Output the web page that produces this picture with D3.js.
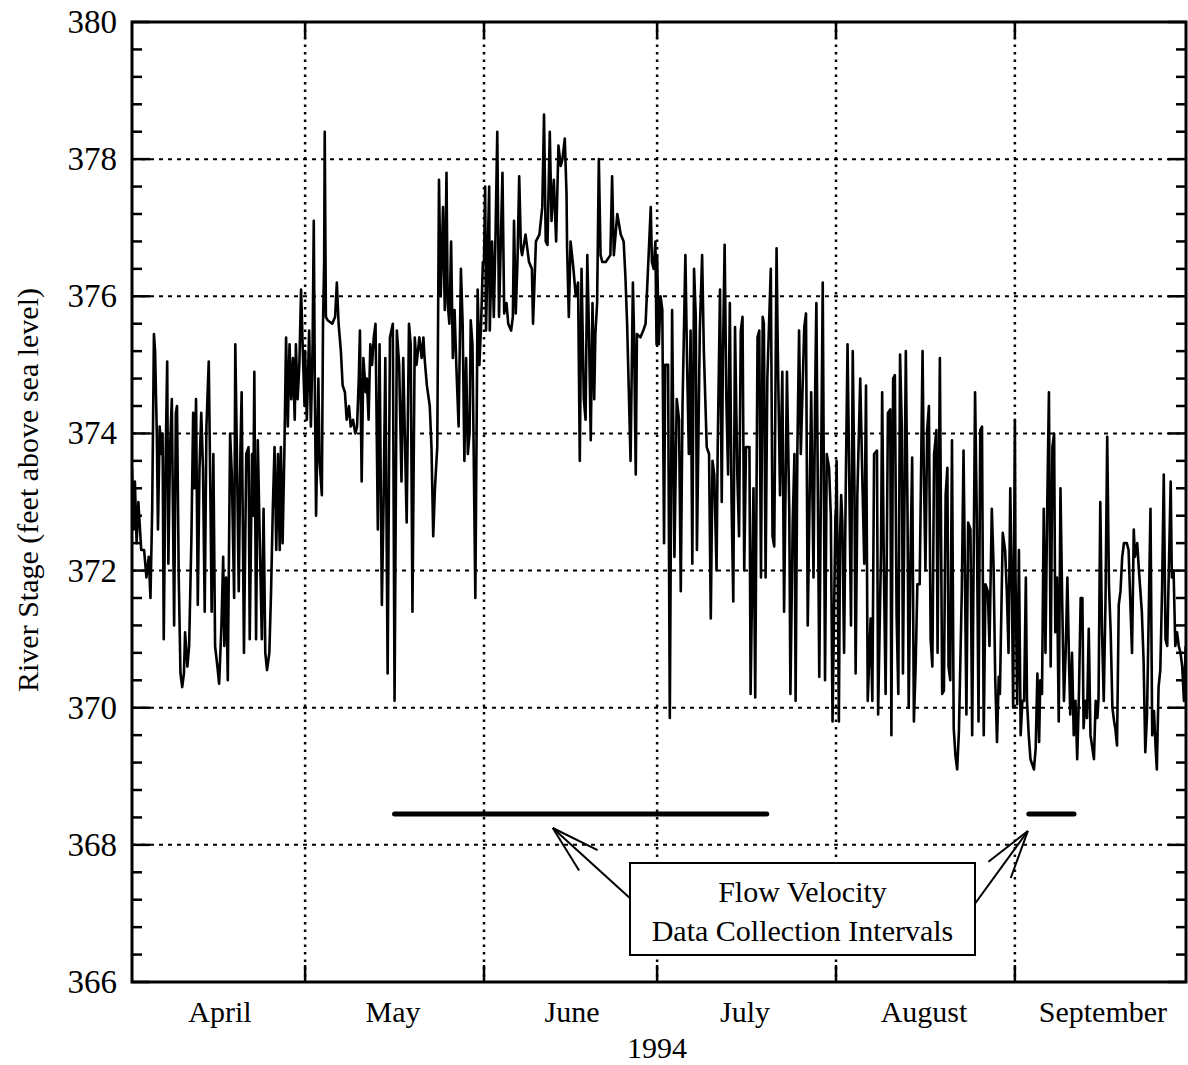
<!DOCTYPE html>
<html>
<head>
<meta charset="utf-8">
<script src="https://cdnjs.cloudflare.com/ajax/libs/d3/7.8.5/d3.min.js"></script>
<style>
body { margin: 0; background: #fff; }
text { font-family: "Liberation Serif", "Times New Roman", serif; fill: #000; }
</style>
</head>
<body>
<div id="river-stage"></div>
<script>
/**
 * River stage, April - September 1994
 * each month: [days since the 1st, stage in feet]
 *  */

var aprilStage = [[0, 373.5], [0.3, 372.6], [0.5, 373.3], [0.8, 372.4], [1.1, 373.0], [1.6, 372.3], [2.1, 372.3], [2.5, 371.9], [2.9, 372.2], [3.2, 371.6], [3.5, 372.9], [3.8, 375.45], [4.0, 375.2], [4.3, 374.0], [4.5, 372.6], [4.8, 374.1], [5.1, 373.7], [5.3, 374.0], [5.5, 371.0], [5.8, 373.5], [6.1, 375.05], [6.3, 372.1], [6.6, 373.8], [6.9, 374.5], [7.3, 371.2], [7.6, 374.3], [7.8, 374.4], [8.1, 371.9], [8.4, 370.5], [8.7, 370.3], [9.0, 370.5], [9.2, 371.1], [9.6, 370.6], [9.9, 370.9], [10.3, 372.5], [10.6, 374.3], [10.8, 373.2], [11.1, 374.5], [11.4, 371.5], [11.7, 373.5], [12.0, 374.3], [12.3, 373.5], [12.6, 371.4], [12.9, 374.1], [13.3, 375.05], [13.6, 373.0], [13.8, 371.4], [14.1, 373.7], [14.4, 370.9], [14.8, 370.6], [15.1, 370.35], [15.5, 371.2], [15.8, 372.2], [16.0, 370.9], [16.3, 371.9], [16.6, 370.4], [17.0, 374.0], [17.3, 373.4], [17.7, 371.6], [17.9, 375.3], [18.2, 373.6], [18.5, 371.7], [18.8, 373.8], [19.0, 374.6], [19.4, 370.8], [19.8, 373.7], [20.2, 373.8], [20.4, 371.0], [20.8, 373.7], [21.0, 372.8], [21.2, 374.9], [21.5, 371.0], [21.8, 373.9], [22.2, 372.2], [22.5, 371.0], [22.8, 372.9], [23.1, 370.8], [23.4, 370.55], [23.8, 370.8], [24.1, 371.7], [24.4, 372.9], [24.7, 373.8], [25.0, 372.3], [25.3, 373.7], [25.6, 372.3], [25.8, 373.8], [26.1, 372.4], [26.4, 373.7], [26.7, 375.4], [27.0, 374.1], [27.3, 375.3], [27.6, 374.5], [27.9, 375.1], [28.2, 374.2], [28.4, 375.3], [28.7, 374.5], [29.0, 375.0], [29.3, 376.1], [29.6, 375.2], [29.9, 374.4]];

var mayStage = [[0.0, 375.2], [0.3, 374.2], [0.7, 375.5], [1.0, 374.1], [1.3, 375.3], [1.5, 377.1], [1.7, 374.5], [1.9, 372.8], [2.3, 374.8], [2.5, 373.6], [2.9, 373.1], [3.1, 375.6], [3.3, 376.5], [3.4, 378.4], [3.6, 375.7], [3.9, 375.65], [4.7, 375.6], [5.2, 375.7], [5.5, 376.2], [5.8, 375.6], [6.2, 375.2], [6.5, 374.7], [6.9, 374.6], [7.2, 374.2], [7.6, 374.4], [7.9, 374.1], [8.3, 374.2], [8.7, 374.0], [9.0, 374.1], [9.3, 374.8], [9.5, 375.5], [9.8, 373.3], [10.1, 375.1], [10.5, 374.6], [10.7, 374.8], [11.0, 374.2], [11.3, 375.3], [11.6, 375.0], [11.9, 375.4], [12.2, 375.6], [12.6, 372.6], [12.9, 375.3], [13.3, 371.5], [13.6, 373.0], [13.9, 375.1], [14.3, 370.5], [14.7, 375.4], [15.2, 375.6], [15.5, 370.1], [15.9, 375.5], [16.3, 375.0], [16.7, 373.3], [17.0, 375.1], [17.6, 372.7], [18.0, 375.6], [18.3, 375.3], [18.6, 371.4], [19.0, 375.4], [19.3, 375.0], [19.8, 375.4], [20.2, 375.1], [20.5, 375.4], [20.7, 375.1], [21.1, 374.7], [21.6, 374.4], [21.9, 373.8], [22.2, 372.5], [22.5, 373.2], [22.9, 373.8], [23.2, 377.7], [23.5, 376.0], [23.9, 377.3], [24.2, 375.8], [24.5, 377.8], [24.7, 375.9], [25.0, 375.6], [25.3, 376.8], [25.6, 375.1], [25.9, 375.8], [26.2, 375.0], [26.6, 374.1], [27.0, 376.4], [27.3, 375.6], [27.6, 373.6], [27.9, 375.1], [28.2, 373.7], [28.5, 374.0], [28.7, 375.65], [29.0, 375.3], [29.5, 371.6], [29.9, 376.1], [30.2, 375.0], [30.5, 375.6], [30.8, 376.5]];

var juneStage = [[0.0, 376.5], [0.2, 377.6], [0.35, 375.5], [0.6, 376.5], [0.9, 377.6], [1.0, 375.5], [1.4, 376.8], [1.7, 375.7], [2.0, 376.9], [2.3, 378.4], [2.6, 375.7], [3.2, 377.8], [3.5, 375.75], [3.9, 375.9], [4.2, 375.6], [4.7, 375.5], [5.0, 375.7], [5.2, 377.1], [5.5, 375.75], [5.8, 376.5], [6.1, 377.75], [6.4, 376.7], [6.6, 376.6], [7.2, 376.9], [7.8, 376.5], [8.3, 376.4], [8.5, 375.6], [9.0, 376.8], [9.6, 376.9], [10.1, 377.3], [10.4, 378.65], [10.7, 376.8], [11.0, 376.75], [11.4, 378.4], [11.7, 377.1], [12.1, 377.7], [12.5, 376.8], [12.9, 378.2], [13.3, 377.9], [13.6, 378.0], [14.0, 378.3], [14.3, 377.5], [14.4, 376.7], [14.7, 375.7], [15.0, 376.8], [15.5, 376.4], [15.9, 376.0], [16.3, 376.2], [16.6, 373.6], [16.9, 376.4], [17.3, 374.5], [17.6, 374.2], [17.9, 376.6], [18.2, 375.45], [18.5, 373.9], [18.8, 375.9], [19.1, 374.5], [19.3, 375.45], [19.6, 375.9], [19.9, 378.0], [20.2, 376.6], [20.5, 376.5], [21.1, 376.5], [21.9, 376.6], [22.2, 377.75], [22.5, 376.6], [23.1, 377.2], [23.7, 376.9], [24.2, 376.8], [24.5, 376.3], [24.8, 375.6], [25.4, 373.6], [25.8, 376.2], [26.0, 375.45], [26.3, 373.4], [26.5, 375.45], [27.1, 375.4], [27.6, 375.5], [28.0, 375.6], [28.9, 377.3], [29.1, 376.5], [29.4, 376.4], [29.7, 376.8], [29.9, 375.3]];

var julyStage = [[0.0, 376.6], [0.3, 375.3], [0.6, 376.0], [0.9, 375.8], [1.2, 372.4], [1.4, 375.0], [1.9, 375.0], [2.2, 369.85], [2.6, 375.8], [3.0, 372.2], [3.4, 374.5], [3.8, 374.2], [4.1, 371.7], [4.4, 374.4], [4.9, 376.6], [5.2, 375.0], [5.5, 373.7], [5.8, 375.5], [6.1, 372.1], [6.4, 376.4], [6.7, 375.7], [6.9, 372.3], [7.4, 375.5], [7.8, 376.6], [8.1, 375.2], [8.6, 373.8], [9.0, 373.7], [9.3, 371.3], [9.6, 373.6], [9.9, 373.4], [10.3, 372.0], [10.5, 373.8], [10.9, 376.1], [11.2, 373.0], [11.4, 375.1], [11.7, 376.75], [12.0, 374.5], [12.3, 373.4], [12.6, 375.9], [12.9, 373.0], [13.2, 371.55], [13.5, 375.55], [13.9, 373.4], [14.2, 372.5], [14.5, 375.5], [14.8, 375.7], [15.1, 372.0], [15.4, 373.8], [16.0, 373.8], [16.2, 370.2], [16.7, 373.2], [17.0, 370.15], [17.4, 375.4], [17.7, 375.5], [18.0, 371.9], [18.3, 375.7], [18.5, 375.6], [18.8, 371.9], [19.1, 374.8], [19.4, 375.6], [19.7, 376.4], [20.0, 372.5], [20.3, 372.35], [20.7, 376.7], [20.9, 375.3], [21.3, 373.1], [21.7, 374.9], [22.0, 371.4], [22.5, 374.9], [22.9, 372.9], [23.1, 370.2], [23.5, 372.7], [23.8, 373.7], [24.0, 370.1], [24.3, 373.7], [24.6, 375.5], [24.9, 373.7], [25.5, 375.55], [25.8, 375.75], [26.1, 371.2], [26.4, 372.9], [26.7, 374.6], [27.1, 371.9], [27.4, 374.7], [27.6, 375.9], [28.1, 370.45], [28.4, 373.3], [28.7, 376.2], [29.1, 370.4], [29.4, 373.7], [29.8, 373.5], [30.1, 372.8], [30.4, 369.8], [30.9, 372.8]];

var augustStage = [[0.0, 372.9], [0.1, 373.6], [0.3, 371.9], [0.5, 369.8], [0.7, 372.5], [0.9, 373.1], [1.1, 372.7], [1.4, 370.8], [1.7, 373.3], [2.0, 375.3], [2.3, 373.3], [2.6, 371.2], [2.9, 375.2], [3.2, 373.2], [3.4, 370.5], [3.7, 373.1], [4.2, 374.8], [4.6, 373.2], [4.9, 372.1], [5.2, 374.7], [5.5, 370.1], [6.0, 371.3], [6.3, 370.1], [6.6, 373.7], [7.1, 373.75], [7.3, 369.9], [7.8, 372.3], [8.0, 374.6], [8.3, 372.0], [8.6, 370.2], [9.0, 374.3], [9.4, 374.35], [9.6, 369.6], [9.9, 374.8], [10.2, 374.85], [10.5, 371.35], [10.8, 370.2], [11.1, 375.15], [11.4, 374.1], [11.6, 370.5], [12.1, 375.2], [12.4, 372.8], [12.6, 370.0], [12.9, 372.1], [13.2, 373.65], [13.5, 369.8], [13.8, 370.6], [14.1, 371.8], [14.5, 371.8], [15.0, 375.2], [15.2, 373.6], [15.5, 372.0], [15.8, 374.05], [16.1, 374.4], [16.4, 371.0], [16.7, 370.6], [17.0, 373.7], [17.4, 374.05], [17.6, 370.8], [18.0, 375.1], [18.4, 370.2], [18.7, 370.25], [19.0, 373.1], [19.3, 373.5], [19.5, 370.6], [19.8, 370.4], [20.1, 373.9], [20.4, 369.7], [20.7, 369.3], [21.0, 369.1], [21.3, 369.65], [21.8, 371.7], [22.1, 373.75], [22.3, 372.3], [22.6, 369.9], [22.9, 372.7], [23.3, 372.6], [23.6, 369.6], [24.1, 374.6], [24.4, 372.8], [24.7, 369.8], [25.0, 374.05], [25.3, 374.1], [25.6, 369.6], [25.9, 371.8], [26.3, 371.7], [26.6, 370.9], [27.0, 372.9], [27.3, 372.1], [27.6, 370.4], [27.9, 369.5], [28.2, 370.45], [28.4, 370.2], [28.9, 372.55], [29.3, 372.3], [29.6, 371.7], [29.9, 370.8], [30.2, 373.2], [30.5, 371.6], [30.7, 370.0]];

var septemberStage = [[0.0, 374.2], [0.1, 372.0], [0.4, 370.05], [0.7, 372.3], [1.0, 369.6], [1.3, 370.1], [1.6, 370.1], [1.9, 371.9], [2.1, 370.1], [2.4, 369.6], [2.7, 369.25], [3.3, 369.1], [3.6, 369.4], [3.9, 370.5], [4.2, 369.5], [4.4, 370.4], [4.7, 370.2], [5.0, 372.9], [5.3, 370.8], [5.6, 372.9], [5.9, 374.6], [6.2, 370.6], [6.5, 373.8], [6.8, 374.0], [7.0, 371.1], [7.3, 371.9], [7.6, 369.8], [7.9, 373.2], [8.2, 371.55], [8.5, 370.1], [8.8, 370.8], [9.1, 371.9], [9.4, 370.6], [9.6, 369.9], [9.9, 370.8], [10.2, 369.6], [10.5, 370.1], [10.8, 369.25], [11.1, 370.2], [11.4, 371.6], [11.7, 371.6], [11.9, 369.7], [12.2, 370.1], [12.5, 369.85], [12.8, 371.15], [13.1, 369.6], [13.7, 369.25], [14.0, 370.1], [14.3, 369.85], [14.5, 370.15], [14.8, 373.0], [15.1, 371.1], [15.4, 370.1], [15.7, 371.55], [16.0, 373.95], [16.3, 371.8], [16.6, 371.1], [16.9, 370.0], [17.2, 369.8], [17.4, 369.7], [17.7, 369.45], [18.0, 371.5], [18.3, 371.7], [18.6, 372.2], [18.9, 372.4], [19.4, 372.4], [19.7, 372.3], [19.9, 371.8], [20.3, 370.8], [20.6, 372.6], [20.8, 372.2], [21.2, 372.4], [21.5, 372.0], [22.0, 371.4], [22.3, 370.7], [22.6, 369.35], [22.9, 369.9], [23.2, 371.4], [23.5, 372.9], [23.8, 369.6], [24.1, 369.95], [24.4, 369.4], [24.6, 369.1], [24.9, 370.3], [25.2, 370.55], [25.5, 371.7], [25.8, 373.4], [26.1, 371.0], [26.4, 370.9], [26.7, 372.1], [27.0, 373.3], [27.2, 371.9], [27.5, 372.0], [27.8, 370.9], [28.1, 371.1], [28.4, 370.9], [28.7, 370.8], [29.0, 370.6], [29.3, 370.1], [29.6, 370.9]];

var monthStages = [aprilStage, mayStage, juneStage, julyStage, augustStage, septemberStage];
var monthLabels = ["April", "May", "June", "July", "August", "September"];
var yearLabel = "1994";
var stageTicks = [366, 368, 370, 372, 374, 376, 378, 380];
var stageGrid = [368, 370, 372, 374, 376, 378];
var yLabel = "River Stage (feet above sea level)";

// flow velocity collection intervals and the stage they are drawn at
var collectionIntervals = [
    ["1994-05-16T12:00", "1994-07-20T00:00"],
    ["1994-09-03T10:00", "1994-09-11T06:00"]
];
var intervalStage = 368.45;
var calloutLines = ["Flow Velocity", "Data Collection Intervals"];

drawRiverStage();

function drawRiverStage() {
    var width = 1188,
        height = 1065;
    var margin = {
        top: 22,
        right: 2,
        bottom: 83,
        left: 132
    };
    var plotRight = width - margin.right;
    var plotBottom = height - margin.bottom;

    var svg = d3.select("#river-stage").append("svg")
        .attr("width", width)
        .attr("height", height);

    var x = d3.scaleTime()
        .domain([new Date(1994, 3, 1), new Date(1994, 9, 1)])
        .range([margin.left, width]);
    var y = d3.scaleLinear()
        .domain([366, 380])
        .range([plotBottom, margin.top]);

    // flatten months into one dated series
    var series = [];
    monthStages.forEach(function (month, i) {
        var start = new Date(1994, 3 + i, 1);
        month.forEach(function (d) {
            series.push({
                date: new Date(+start + d[0] * 864e5),
                stage: d[1]
            });
        });
    });

    svg.append("clipPath")
        .attr("id", "plot-clip")
        .append("rect")
        .attr("x", margin.left)
        .attr("y", margin.top)
        .attr("width", plotRight - margin.left)
        .attr("height", plotBottom - margin.top);

    // grid
    svg.append("g")
        .selectAll("line")
        .data(stageGrid)
        .enter().append("line")
        .attr("x1", margin.left)
        .attr("x2", plotRight)
        .attr("y1", function (d) { return y(d); })
        .attr("y2", function (d) { return y(d); })
        .attr("stroke", "#000")
        .attr("stroke-width", 2)
        .attr("stroke-dasharray", "4,5");

    var monthStarts = d3.timeMonth.range(new Date(1994, 4, 1), new Date(1994, 9, 1));
    svg.append("g")
        .selectAll("line")
        .data(monthStarts)
        .enter().append("line")
        .attr("x1", function (d) { return x(d); })
        .attr("x2", function (d) { return x(d); })
        .attr("y1", margin.top)
        .attr("y2", plotBottom)
        .attr("stroke", "#000")
        .attr("stroke-width", 2.5)
        .attr("stroke-dasharray", "2.5,5");

    // month ticks, top and bottom
    var monthTicks = svg.append("g").attr("stroke", "#000").attr("stroke-width", 2.5);
    monthStarts.forEach(function (d) {
        monthTicks.append("line")
            .attr("x1", x(d)).attr("x2", x(d))
            .attr("y1", plotBottom).attr("y2", plotBottom - 17);
        monthTicks.append("line")
            .attr("x1", x(d)).attr("x2", x(d))
            .attr("y1", margin.top).attr("y2", margin.top + 17);
    });

    // stage ticks, both sides
    var minor = d3.range(366, 380.01, 0.4).filter(function (v) {
        return Math.abs(v - Math.round(v / 2) * 2) > 0.01;
    });
    var stageTickG = svg.append("g").attr("stroke", "#000").attr("stroke-width", 2.5);
    stageTicks.forEach(function (v) {
        stageTickG.append("line").attr("x1", margin.left).attr("x2", margin.left + 18)
            .attr("y1", y(v)).attr("y2", y(v));
        stageTickG.append("line").attr("x1", plotRight).attr("x2", plotRight - 18)
            .attr("y1", y(v)).attr("y2", y(v));
    });
    minor.forEach(function (v) {
        stageTickG.append("line").attr("x1", margin.left).attr("x2", margin.left + 10)
            .attr("y1", y(v)).attr("y2", y(v));
        stageTickG.append("line").attr("x1", plotRight).attr("x2", plotRight - 10)
            .attr("y1", y(v)).attr("y2", y(v));
    });

    // the stage record
    var line = d3.line()
        .x(function (d) { return x(d.date); })
        .y(function (d) { return y(d.stage); });

    svg.append("path")
        .datum(series)
        .attr("clip-path", "url(#plot-clip)")
        .attr("fill", "none")
        .attr("stroke", "#000")
        .attr("stroke-width", 2.6)
        .attr("stroke-linejoin", "round")
        .attr("d", line);

    // collection interval bars
    svg.append("g")
        .selectAll("line")
        .data(collectionIntervals)
        .enter().append("line")
        .attr("x1", function (d) { return x(new Date(d[0])); })
        .attr("x2", function (d) { return x(new Date(d[1])); })
        .attr("y1", y(intervalStage))
        .attr("y2", y(intervalStage))
        .attr("stroke", "#000")
        .attr("stroke-width", 5)
        .attr("stroke-linecap", "round");

    // frame
    svg.append("rect")
        .attr("x", margin.left)
        .attr("y", margin.top)
        .attr("width", plotRight - margin.left)
        .attr("height", plotBottom - margin.top)
        .attr("fill", "none")
        .attr("stroke", "#000")
        .attr("stroke-width", 3);

    // callout box
    var box = { x: 630, y: 863, w: 345, h: 92 };
    var tips = [
        [x(new Date(1994, 5, 12, 22)), y(intervalStage) + 14],
        [x(new Date(1994, 8, 3, 6)), y(intervalStage) + 17]
    ];
    var tails = [[box.x + 2, box.y + 37], [box.x + box.w - 1, box.y + 42]];
    var arrows = svg.append("g")
        .attr("stroke", "#000")
        .attr("stroke-width", 2)
        .attr("fill", "none");
    tips.forEach(function (tip, i) {
        var tail = tails[i];
        var ang = Math.atan2(tail[1] - tip[1], tail[0] - tip[0]);
        var barb = 50,
            spread = 16 * Math.PI / 180;
        arrows.append("line")
            .attr("x1", tip[0]).attr("y1", tip[1])
            .attr("x2", tail[0]).attr("y2", tail[1]);
        [-spread, spread].forEach(function (s) {
            arrows.append("line")
                .attr("x1", tip[0]).attr("y1", tip[1])
                .attr("x2", tip[0] + barb * Math.cos(ang + s))
                .attr("y2", tip[1] + barb * Math.sin(ang + s));
        });
    });

    svg.append("rect")
        .attr("x", box.x)
        .attr("y", box.y)
        .attr("width", box.w)
        .attr("height", box.h)
        .attr("fill", "#fff")
        .attr("stroke", "#000")
        .attr("stroke-width", 2);

    svg.append("g")
        .selectAll("text")
        .data(calloutLines)
        .enter().append("text")
        .attr("x", box.x + box.w / 2)
        .attr("y", function (d, i) { return box.y + 39 + i * 39; })
        .attr("text-anchor", "middle")
        .attr("font-size", "30px")
        .text(function (d) { return d; });

    // labels
    svg.append("g")
        .selectAll("text")
        .data(stageTicks)
        .enter().append("text")
        .attr("x", margin.left - 15)
        .attr("y", function (d) { return y(d) + 11; })
        .attr("text-anchor", "end")
        .attr("font-size", "33px")
        .text(function (d) { return d; });

    svg.append("g")
        .selectAll("text")
        .data(monthLabels)
        .enter().append("text")
        .attr("x", function (d, i) { return x(new Date(1994, 3 + i, 16, 6)); })
        .attr("y", plotBottom + 40)
        .attr("text-anchor", "middle")
        .attr("font-size", "30px")
        .text(function (d) { return d; });

    svg.append("text")
        .attr("x", x(new Date(1994, 6, 1)))
        .attr("y", plotBottom + 76)
        .attr("text-anchor", "middle")
        .attr("font-size", "30px")
        .text(yearLabel);

    svg.append("text")
        .attr("transform", "translate(38," + 490 + ") rotate(-90)")
        .attr("text-anchor", "middle")
        .attr("font-size", "30px")
        .text(yLabel);
}
</script>
</body>
</html>
